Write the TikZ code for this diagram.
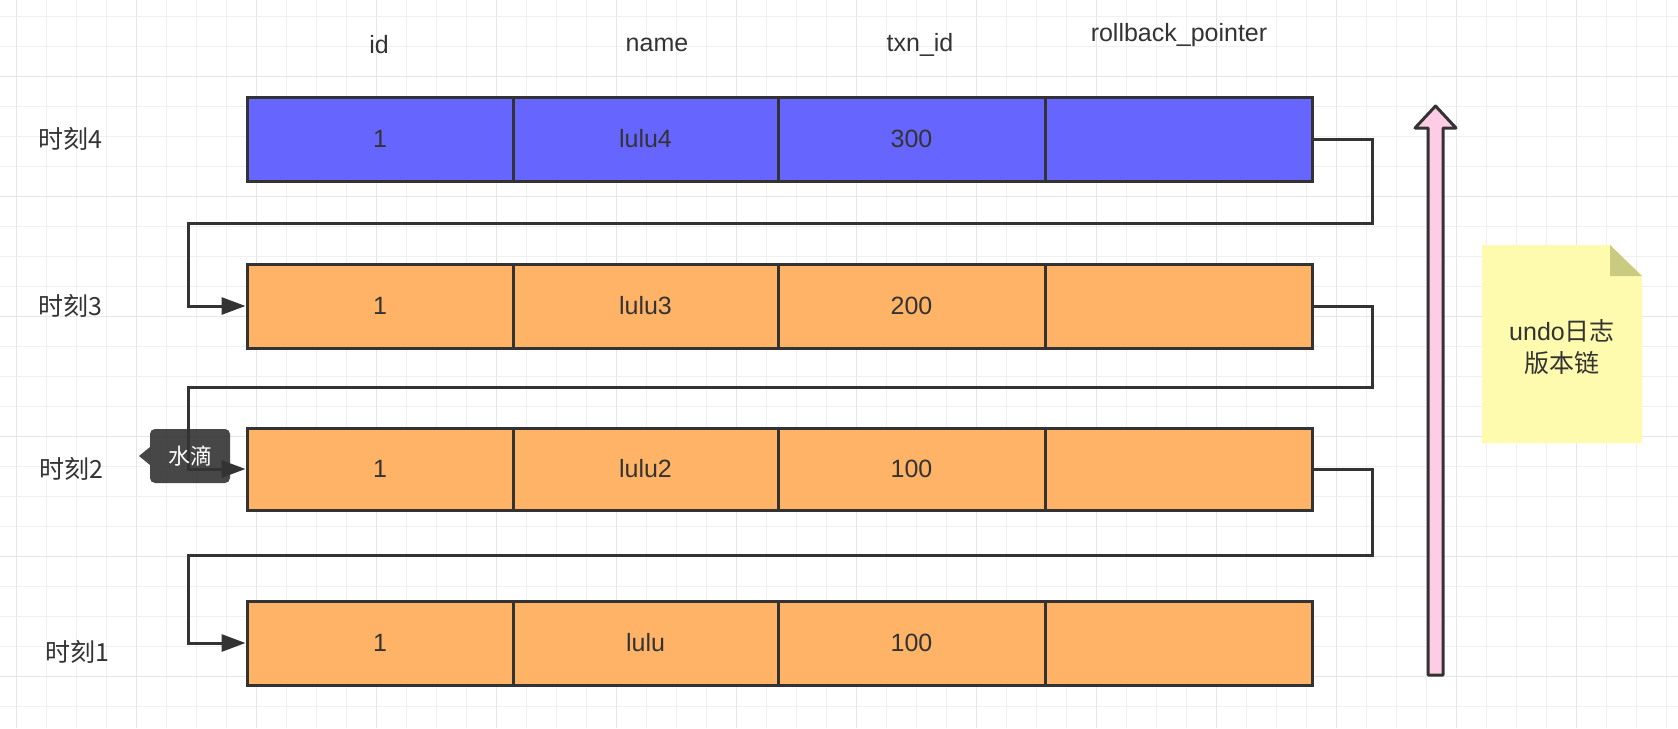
\documentclass[tikz,border=0pt]{standalone}
\usepackage{fontspec}
\setmainfont{Liberation Sans}
\newfontfamily\cjk{Noto Sans CJK SC}
\usetikzlibrary{arrows.meta}
\definecolor{ink}{HTML}{333333}
\definecolor{blueb}{HTML}{6666FF}
\definecolor{orangeb}{HTML}{FFB366}
\definecolor{pinkf}{HTML}{FFCCE6}
\definecolor{notef}{HTML}{FFFBAE}
\definecolor{foldf}{HTML}{CACA80}
\definecolor{gridminor}{HTML}{F0F0F0}
\definecolor{gridmajor}{HTML}{E6E6E6}
\definecolor{tipbg}{HTML}{333333}
\begin{document}
\begin{tikzpicture}[x=1pt,y=-1pt,
  txt/.style={text=ink, font=\fontsize{25}{30}\selectfont, inner sep=0pt},
  cjktxt/.style={text=ink, font=\cjk\fontsize{25}{30}\selectfont, inner sep=0pt},
  cell/.style={draw=ink, line width=3pt, inner sep=0pt, text=ink, font=\fontsize{25}{30}\selectfont},
  conn/.style={draw=ink, line width=3pt, line join=miter, -{Triangle[length=24pt,width=17pt]}},
  minorline/.style={draw=gridminor, line width=1pt},
  majorline/.style={draw=gridmajor, line width=1.6pt}]
\useasboundingbox (0,0) rectangle (1678,728);
\fill[white] (0,0) rectangle (1678,728);
% grid
\foreach \i in {0,...,55} \draw[minorline] (16.67+30*\i,0) -- ++(0,728);
\foreach \j in {0,...,24} \draw[minorline] (0,16.67+30*\j) -- ++(1678,0);
\foreach \i in {0,...,13} \draw[majorline] (16.67+120*\i,0) -- ++(0,728);
\foreach \j in {0,...,5} \draw[majorline] (0,76.67+120*\j) -- ++(1678,0);

% headers
\node[txt] (hid) at (379,45) {id};
\node[txt] (hname) at (657,45) {name};
\node[txt] (htxn) at (920,45) {txn\_id};
\node[txt] (hrb) at (1179,35) {rollback\_pointer};

% rows
\foreach \r/\y/\h/\col/\b/\c in {4/139/84/blueb/lulu4/300, 3/306/84/orangeb/lulu3/200, 2/469/82/orangeb/lulu2/100, 1/643/84/orangeb/lulu/100}{
  \node[cell, fill=\col, minimum width=266pt, minimum height=\h pt] (r\r c1) at (380,\y) {1};
  \node[cell, fill=\col, minimum width=265pt, minimum height=\h pt] (r\r c2) at (645.5,\y) {\b};
  \node[cell, fill=\col, minimum width=267pt, minimum height=\h pt] (r\r c3) at (911.5,\y) {\c};
  \node[cell, fill=\col, minimum width=267pt, minimum height=\h pt] (r\r c4) at (1178.5,\y) {};
}

% row labels
\node[cjktxt] (t4) at (70,139) {时刻4};
\node[cjktxt] (t3) at (70,306) {时刻3};
\node[cjktxt] (t2) at (71,469) {时刻2};
\node[cjktxt] (t1) at (77,652) {时刻1};

% connectors
\draw[conn] (r4c4.east) -- (1372,139) |- (188,223) |- (r3c1.west);
\draw[conn] (r3c4.east) -- (1372,306) |- (188,387) |- (r2c1.west);
\draw[conn] (r2c4.east) -- (1372,469) |- (188,555) |- (r1c1.west);

% tooltip
\fill[tipbg, opacity=0.9, rounded corners=5pt] (150,429) rectangle (230,483);
\fill[tipbg, opacity=0.9] (139,456) -- (150,447) -- (150,465) -- cycle;
\node[text=white, font=\cjk\fontsize{22}{26}\selectfont, inner sep=0pt] (tip) at (190,456) {水滴};

% pink arrow
\draw[ink, fill=pinkf, line width=3pt, line join=round]
  (1428,675) -- (1428,128) -- (1415,128) -- (1435.5,106) -- (1456,128) -- (1443,128) -- (1443,675) -- cycle;

% note
\fill[notef] (1482,245) -- (1610,245) -- (1642,276) -- (1642,443) -- (1482,443) -- cycle;
\fill[foldf] (1610,245) -- (1610,276) -- (1642,276) -- cycle;
\node[text=ink, font=\fontsize{25}{32}\selectfont, align=center, inner sep=0pt] (note) at (1562,347) {undo{\cjk 日志}\\{\cjk 版本链}};
\end{tikzpicture}
\end{document}
